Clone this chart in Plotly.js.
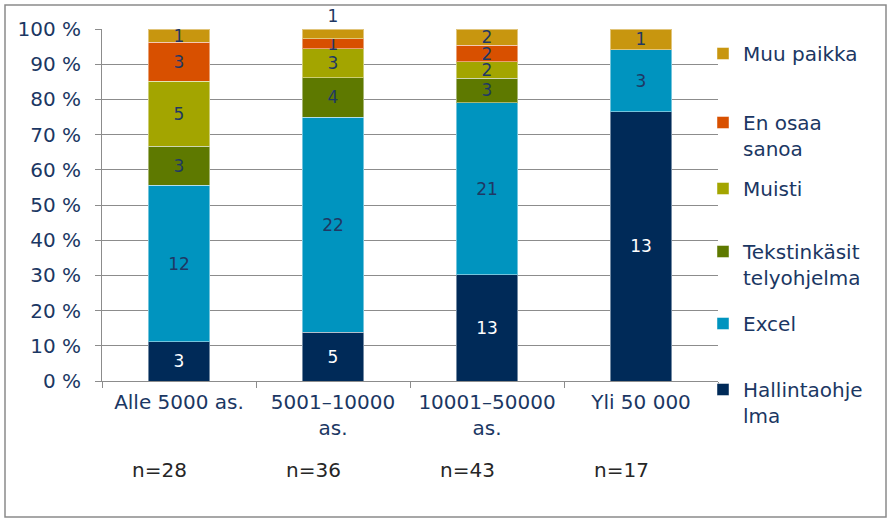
<!DOCTYPE html>
<html>
<head>
<meta charset="utf-8">
<script src="https://cdn.plot.ly/plotly-3.0.1.min.js"></script>
<style>
  html, body { margin: 0; padding: 0; background: #ffffff; }
  #chart { width: 891px; height: 522px; }
</style>
</head>
<body>
<div id="chart"></div>
<script>
// ---- Data ----
const categories = ['Alle 5000 as.', '5001–10000<br>as.', '10001–50000<br>as.', 'Yli 50 000'];
const nValues = [28, 36, 43, 17];

const seriesNames = ['Hallintaohjelma', 'Excel', 'Tekstinkäsittelyohjelma', 'Muisti', 'En osaa sanoa', 'Muu paikka'];
const legendLabels = ['Hallintaohje<br>lma', 'Excel', 'Tekstinkäsit<br>telyohjelma', 'Muisti', 'En osaa<br>sanoa', 'Muu paikka'];

const hallintaohjelma = [3, 5, 13, 13];
const excel = [12, 22, 21, 3];
const tekstinkasittely = [3, 4, 3, 0];
const muisti = [5, 3, 2, 0];
const enOsaaSanoa = [3, 1, 2, 0];
const muuPaikka = [1, 1, 2, 1];

const seriesValues = [hallintaohjelma, excel, tekstinkasittely, muisti, enOsaaSanoa, muuPaikka];

// ---- Styles ----
const colors = ['#002A58', '#0094BF', '#5E7900', '#A3A500', '#D85000', '#C8960F'];
const labelColors = ['#ffffff', '#1F3864', '#1F3864', '#1F3864', '#1F3864', '#1F3864'];
const FONT = 'DejaVu Sans, Verdana, sans-serif';
const TEXT = '#1B3763';
const GRID = '#8C8C8C';

// legend box tops (px from top), Hallinta..Muu
const legendTopPx = [370, 304, 232, 169, 103, 34];
const plotTop = 29, plotBottom = 381;

// label placement for the top (Muu paikka) segments
const topLabelPos = ['inside', 'outside', 'inside', 'inside'];

const traces = seriesNames.map((name, i) => ({
  type: 'bar',
  name: legendLabels[i],
  x: categories,
  y: seriesValues[i],
  text: seriesValues[i].map(v => v > 0 ? String(v) : ''),
  textposition: i === seriesNames.length - 1 ? topLabelPos : 'inside',
  insidetextanchor: 'middle',
  textangle: 0,
  constraintext: 'none',
  cliponaxis: false,
  textfont: { family: FONT, size: 17, color: labelColors[i] },
  outsidetextfont: { family: FONT, size: 17, color: '#1F3864' },
  marker: { color: colors[i], line: { color: 'rgba(255,255,255,0.45)', width: 1 } },
  legend: 'legend' + (i + 2),
  hoverinfo: 'name+y'
}));

const layout = {
  width: 891,
  height: 522,
  margin: { l: 102, r: 173, t: 29, b: 141 },
  paper_bgcolor: '#ffffff',
  plot_bgcolor: '#ffffff',
  barmode: 'stack',
  barnorm: 'percent',
  bargap: 0.6,
  uniformtext: { mode: 'show', minsize: 17 },
  font: { family: FONT, color: TEXT, size: 20 },
  xaxis: {
    type: 'category',
    tickson: 'boundaries',
    ticks: 'outside',
    ticklen: 6,
    tickcolor: GRID,
    showline: true,
    linecolor: GRID,
    linewidth: 1,
    showgrid: false,
    tickfont: { family: FONT, size: 20, color: TEXT },
    ticklabelstandoff: 3
  },
  yaxis: {
    range: [0, 100],
    dtick: 10,
    ticksuffix: ' %',
    ticks: 'outside',
    ticklen: 6,
    tickcolor: GRID,
    showline: true,
    linecolor: GRID,
    linewidth: 1,
    showgrid: true,
    gridcolor: GRID,
    gridwidth: 1,
    zeroline: false,
    tickfont: { family: FONT, size: 20, color: TEXT },
    ticklabelstandoff: 10
  },
  annotations: nValues.map((n, i) => ({
    x: categories[i],
    xref: 'x',
    y: (plotBottom - 470) / (plotBottom - plotTop),
    yref: 'paper',
    yanchor: 'middle',
    xanchor: 'center',
    text: 'n=' + n,
    showarrow: false,
    xshift: -20,
    font: { family: FONT, size: 20, color: '#262626' }
  })),
  shapes: [{
    type: 'rect', xref: 'paper', yref: 'paper',
    x0: (5 - 102) / 616, x1: (886 - 102) / 616,
    y0: (plotBottom - 517) / (plotBottom - plotTop), y1: (plotBottom - 5) / (plotBottom - plotTop),
    line: { color: '#8A8A8A', width: 1.5 },
    fillcolor: 'rgba(0,0,0,0)',
    layer: 'below'
  }],
  showlegend: true
};

seriesNames.forEach((_, i) => {
  layout['legend' + (i + 2)] = {
    x: (703 - 102) / 616,
    xanchor: 'left',
    y: (plotBottom - legendTopPx[i]) / (plotBottom - plotTop),
    yanchor: 'top',
    valign: 'top',
    bgcolor: 'rgba(0,0,0,0)',
    borderwidth: 0,
    font: { family: FONT, size: 20, color: TEXT },
    itemclick: false,
    itemdoubleclick: false
  };
});

Plotly.newPlot('chart', traces, layout, { displayModeBar: false, staticPlot: true });
</script>
</body>
</html>
